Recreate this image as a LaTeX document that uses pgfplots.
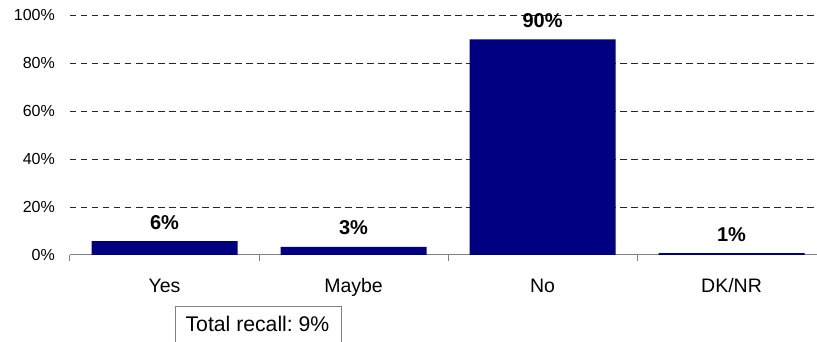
\documentclass[border=0pt]{standalone}
\usepackage{pgfplots}
\pgfplotsset{compat=1.18}
\usepackage{pgfplotstable}
\usepackage{fontspec}
\setmainfont{Liberation Sans}
\frenchspacing
\definecolor{navy}{RGB}{0,0,128}
\pgfplotstableread{
x val label
0 5.8 6\%
1 3.4 3\%
2 89.8 90\%
3 0.8 1\%
}\datatable
\begin{document}
\begin{tikzpicture}[x=1pt,y=1pt]
\begin{axis}[
  at={(0pt,0pt)}, anchor=south west,
  scale only axis, width=747pt, height=240pt,
  xmin=-0.5, xmax=3.452, ymin=0, ymax=100,
  axis x line*=bottom, axis y line*=left,
  y axis line style={draw=none},
  x axis line style={draw=gray, line width=1pt},
  /pgf/number format/assume math mode=true,
  ytick={20,40,60,80,100},
  extra y ticks={0},
  extra y tick style={grid=none},
  yticklabel={\pgfmathprintnumber{\tick}\%},
  ymajorgrids,
  grid style={draw=black!85, line width=0.9pt, dash pattern=on 6.5pt off 4.5pt},
  major y tick style={draw=none},
  yticklabel style={font=\fontsize{16}{19}\selectfont, inner sep=0pt, anchor=east, xshift=-15pt},
  xtick={0,1,2,3},
  xticklabels={Yes,Maybe,No,DK/NR},
  major x tick style={draw=none},
  xticklabel style={font=\fontsize{19.5}{23}\selectfont, inner sep=0pt, anchor=base, yshift=-38pt},
  extra x ticks={-0.5,0.5,1.5,2.5},
  extra x tick labels={},
  extra x tick style={grid=none, tick align=outside, major tick length=6pt, major x tick style={draw=gray, line width=1pt}},
  clip=false,
]
\addplot[ybar, bar width=146pt, fill=navy, draw=none,
  nodes near coords, point meta=explicit symbolic,
  every node near coord/.append style={font=\fontsize{20}{24}\selectfont\bfseries, anchor=base, yshift=12pt, inner sep=0pt}]
  table[x=x, y=val, meta=label] {\datatable};
\end{axis}
\draw[gray, line width=1pt] (105pt,-52pt) rectangle (271pt,-100pt);
\node[anchor=base, inner sep=0pt, font=\fontsize{21.2}{25}\selectfont] at (187.5pt,-76.5pt) {Total recall: 9\%};
\pgfresetboundingbox
\path[use as bounding box] (-70pt,-87pt) rectangle (747pt,255pt);
\end{tikzpicture}
\end{document}
